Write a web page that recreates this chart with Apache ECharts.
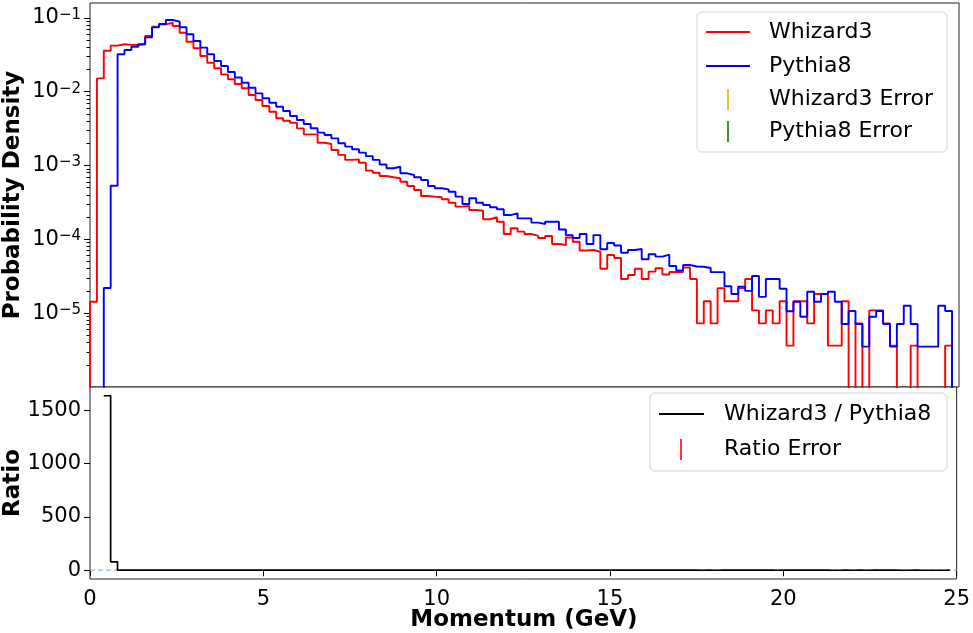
<!DOCTYPE html>
<html><head><meta charset="utf-8">
<script src="https://cdn.jsdelivr.net/npm/echarts@6/dist/echarts.min.js"></script>
<style>html,body{margin:0;padding:0;background:#fff}#c{width:973px;height:633px}</style>
</head><body><div id="c"></div>
<script>
// ---- data ----
const N_BINS = 125;
const BIN_LO = 0;
const BIN_HI = 24.8;
const whizard3 = [
1.43e-5,1.51e-2,3.58e-2,4.19e-2,4.38e-2,4.30e-2,4.27e-2,4.41e-2,5.66e-2,7.57e-2,
8.15e-2,8.57e-2,7.74e-2,6.28e-2,4.74e-2,3.86e-2,3.03e-2,2.46e-2,2.07e-2,1.71e-2,
1.47e-2,1.27e-2,1.11e-2,9.0e-3,7.7e-3,6.39e-3,5.35e-3,4.35e-3,4.04e-3,3.79e-3,
3.18e-3,2.64e-3,2.64e-3,2.03e-3,1.95e-3,1.62e-3,1.39e-3,1.19e-3,1.21e-3,1.09e-3,
8.5e-4,7.97e-4,7.2e-4,6.92e-4,6.7e-4,6.03e-4,5.27e-4,4.65e-4,3.86e-4,3.78e-4,
3.71e-4,3.48e-4,3.13e-4,2.77e-4,2.83e-4,2.49e-4,2.44e-4,1.87e-4,1.99e-4,1.73e-4,
1.18e-4,1.41e-4,1.27e-4,1.18e-4,1.11e-4,1.04e-4,1.11e-4,8.65e-5,8.38e-5,1.06e-4,
9.28e-5,7.06e-5,7.16e-5,6.79e-5,3.99e-5,6.14e-5,5.59e-5,2.9e-5,3.29e-5,4.0e-5,
2.9e-5,3.65e-5,4.06e-5,3.34e-5,3.61e-5,3.6e-5,4.15e-5,2.9e-5,7.26e-6,1.45e-5,
7.26e-6,2.18e-5,1.45e-5,1.45e-5,2.18e-5,2.9e-5,1.09e-5,7.26e-6,1.09e-5,7.26e-6,
1.45e-5,3.63e-6,1.45e-5,1.45e-5,7.26e-6,1.82e-5,1.82e-5,3.63e-6,3.63e-6,1.45e-5,
0,7.26e-6,0,1.09e-5,1.09e-5,7.26e-6,3.63e-6,0,0,3.63e-6,
0,0,0,0,3.63e-6
];
const pythia8 = [
0,0,2.19e-5,5.32e-4,3.2e-2,3.66e-2,4.06e-2,4.37e-2,5.43e-2,7.41e-2,
8.24e-2,9.33e-2,8.86e-2,7.43e-2,5.97e-2,4.84e-2,3.94e-2,3.2e-2,2.6e-2,2.22e-2,
1.84e-2,1.55e-2,1.32e-2,1.13e-2,9.48e-3,8.12e-3,7.08e-3,6.25e-3,5.47e-3,4.68e-3,
4.13e-3,3.65e-3,3.19e-3,2.78e-3,2.59e-3,2.33e-3,2.0e-3,1.8e-3,1.66e-3,1.49e-3,
1.34e-3,1.19e-3,1.03e-3,9.16e-4,9.62e-4,7.83e-4,7.43e-4,6.92e-4,6.36e-4,5.27e-4,
4.91e-4,4.75e-4,4.41e-4,3.78e-4,3.01e-4,3.6e-4,3.13e-4,2.92e-4,2.72e-4,2.55e-4,
2.13e-4,2.25e-4,1.92e-4,1.92e-4,1.68e-4,1.61e-4,1.73e-4,1.73e-4,1.36e-4,1.14e-4,
1.04e-4,1.18e-4,8.65e-5,1.14e-4,7.34e-5,8.91e-5,8.24e-5,6.59e-5,7.16e-5,7.39e-5,
5.36e-5,6.29e-5,5.82e-5,6.19e-5,4.35e-5,3.79e-5,4.49e-5,4.28e-5,4.25e-5,4.09e-5,
3.59e-5,3.59e-5,2.31e-5,1.82e-5,2.29e-5,2.0e-5,3.18e-5,1.66e-5,2.9e-5,2.9e-5,
2.14e-5,1.06e-5,1.43e-5,8.95e-6,1.95e-5,1.43e-5,1.82e-5,1.95e-5,1.43e-5,7.13e-6,
1.07e-5,7.13e-6,3.52e-6,8.95e-6,1.07e-5,7.13e-6,3.52e-6,7.13e-6,1.26e-5,7.13e-6,
3.52e-6,3.52e-6,3.52e-6,1.26e-5,1.07e-5
];
const ratio = [
null,null,1637,79,1.37,1.17,1.05,1.01,1.04,1.02,
0.99,0.92,0.87,0.85,0.79,0.80,0.77,0.77,0.80,0.77,
0.80,0.82,0.84,0.80,0.81,0.79,0.76,0.70,0.74,0.81,
0.77,0.72,0.83,0.73,0.75,0.70,0.70,0.66,0.73,0.73,
0.63,0.67,0.70,0.76,0.70,0.77,0.71,0.67,0.61,0.72,
0.76,0.73,0.71,0.73,0.94,0.69,0.78,0.64,0.73,0.68,
0.55,0.63,0.66,0.61,0.66,0.65,0.64,0.50,0.62,0.93,
0.89,0.60,0.83,0.60,0.54,0.69,0.68,0.44,0.46,0.54,
0.54,0.58,0.70,0.54,0.83,0.95,0.92,0.68,0.17,0.35,
0.20,0.61,0.63,0.80,0.95,1.45,0.34,0.44,0.38,0.25,
0.68,0.34,1.01,1.62,0.37,1.27,1.00,0.19,0.25,2.03,
0,1.02,0,1.22,1.02,1.02,1.03,0,0,0.51,
0,0,0,0,0.34
];
const REF_RATIO = 1;
const xTicks = [0, 5, 10, 15, 20, 25];
const yMajorTicks = [1e-5, 1e-4, 1e-3, 1e-2, 1e-1];
const yMinorTicks = [];
[-6,-5,-4,-3,-2,-1].forEach(e => { for (let m = 2; m <= 9; m++) yMinorTicks.push(m * Math.pow(10, e)); });
const ratioTicks = [0, 500, 1000, 1500];

// ---- layout / styles ----
const FONT = '"DejaVu Sans", Verdana, sans-serif';
const Y_MIN = 1e-6, Y_MAX = Math.pow(10, -0.8);
const R_MIN = -82, R_MAX = 1719;
const FLOOR = 1e-9; // empty bins fall below the log axis and are clipped

const edges = [];
for (let i = 0; i <= N_BINS; i++) edges.push(BIN_LO + (BIN_HI - BIN_LO) * i / N_BINS);

function histSteps(vals) {
  const pts = [[edges[0], FLOOR]];
  vals.forEach((v, i) => pts.push([edges[i], v > 0 ? v : FLOOR]));
  const last = vals[vals.length - 1];
  pts.push([edges[N_BINS], last > 0 ? last : FLOOR]);
  pts.push([edges[N_BINS], FLOOR]);
  return pts;
}
function ratioSteps(vals) {
  const pts = [];
  let lastIdx = -1;
  vals.forEach((v, i) => { if (v !== null) { pts.push([edges[i], v]); lastIdx = i; } });
  pts.push([edges[lastIdx + 1], vals[lastIdx]]);
  return pts;
}

const chart = echarts.init(document.getElementById('c'), null, {renderer: 'canvas'});
const tickStyle = {color: '#000', width: 1};
const labelBase = {color: '#000', fontFamily: FONT, fontSize: 21};
const LEG_FONT = '22px ' + FONT;
const TITLE_FONT = 'bold 23px ' + FONT;

const option = {
  animation: false,
  backgroundColor: '#fff',
  grid: [
    {left: 90, top: 3, width: 869, height: 384, show: true, borderColor: '#222', borderWidth: 1, backgroundColor: '#fff'},
    {left: 90, top: 387, width: 869, height: 192, show: true, borderColor: '#222', borderWidth: 1, backgroundColor: '#fff'}
  ],
  xAxis: [
    {gridIndex: 0, type: 'value', min: 0, max: 25, axisLine: {show: false}, axisTick: {show: false}, axisLabel: {show: false}, splitLine: {show: false}},
    {gridIndex: 1, type: 'value', min: 0, max: 25, interval: 5, axisLine: {show: false},
     axisTick: {show: true, length: 6, lineStyle: tickStyle},
     axisLabel: Object.assign({margin: 10, formatter: v => String(v)}, labelBase), splitLine: {show: false}}
  ],
  yAxis: [
    {gridIndex: 0, type: 'log', logBase: 10, min: Y_MIN, max: Y_MAX, position: 'left',
     axisLine: {show: false}, splitLine: {show: false},
     axisTick: {show: true, length: 6, lineStyle: tickStyle, customValues: yMajorTicks},
     axisLabel: {margin: 9, customValues: yMajorTicks,
       formatter: function (v) { const e = Math.round(Math.log10(v)); return '{b|10}{s|\u2212' + Math.abs(e) + '}'; },
       rich: {
         b: {fontSize: 21, fontFamily: FONT, color: '#000', lineHeight: 21, padding: [5, 0, 0, 0], verticalAlign: 'bottom'},
         s: {fontSize: 15, fontFamily: FONT, color: '#000', lineHeight: 15, verticalAlign: 'top'}
       }}},
    {gridIndex: 0, type: 'log', logBase: 10, min: Y_MIN, max: Y_MAX, position: 'left',
     axisLine: {show: false}, splitLine: {show: false}, axisLabel: {show: false},
     axisTick: {show: true, length: 3.5, lineStyle: tickStyle, customValues: yMinorTicks}},
    {gridIndex: 1, type: 'value', min: R_MIN, max: R_MAX, position: 'left',
     axisLine: {show: false}, splitLine: {show: false},
     axisTick: {show: true, length: 6, lineStyle: tickStyle, customValues: ratioTicks},
     axisLabel: Object.assign({margin: 9, customValues: ratioTicks, formatter: v => String(v)}, labelBase)}
  ],
  series: [
    {name: 'Whizard3', type: 'line', xAxisIndex: 0, yAxisIndex: 0, step: 'end', showSymbol: false, clip: true,
     lineStyle: {color: '#ff0000', width: 1.9}, itemStyle: {color: '#ff0000'}, data: histSteps(whizard3), z: 2},
    {name: 'Pythia8', type: 'line', xAxisIndex: 0, yAxisIndex: 0, step: 'end', showSymbol: false, clip: true,
     lineStyle: {color: '#0000ff', width: 1.9}, itemStyle: {color: '#0000ff'}, data: histSteps(pythia8), z: 3},
    {name: 'Reference', type: 'line', xAxisIndex: 1, yAxisIndex: 2, showSymbol: false, silent: true,
     lineStyle: {color: '#8fbbd9', width: 1.2, type: [5, 3]}, data: [[0, REF_RATIO], [25, REF_RATIO]], z: 1},
    {name: 'Whizard3 / Pythia8', type: 'line', xAxisIndex: 1, yAxisIndex: 2, step: 'end', showSymbol: false, clip: true,
     lineStyle: {color: '#000', width: 1.7}, itemStyle: {color: '#000'}, data: ratioSteps(ratio), z: 3}
  ],
  graphic: [
    // axis titles
    {type: 'text', x: 13, y: 195, rotation: Math.PI / 2, z: 10,
     style: {text: 'Probability Density', font: TITLE_FONT, fill: '#000', textAlign: 'center', textVerticalAlign: 'middle', align: 'center', verticalAlign: 'middle'}},
    {type: 'text', x: 13, y: 483, rotation: Math.PI / 2, z: 10,
     style: {text: 'Ratio', font: TITLE_FONT, fill: '#000', textAlign: 'center', textVerticalAlign: 'middle', align: 'center', verticalAlign: 'middle'}},
    {type: 'text', x: 524, y: 620, z: 10,
     style: {text: 'Momentum (GeV)', font: TITLE_FONT, fill: '#000', textAlign: 'center', textVerticalAlign: 'middle', align: 'center', verticalAlign: 'middle'}},
    // legend (top)
    {type: 'rect', shape: {x: 697, y: 12, width: 250, height: 140, r: 5}, z: 20,
     style: {fill: 'rgba(255,255,255,0.8)', stroke: '#d3d3d3', lineWidth: 1}},
    {type: 'line', shape: {x1: 706, y1: 32, x2: 750, y2: 32}, z: 21, style: {stroke: '#ff0000', lineWidth: 2}},
    {type: 'line', shape: {x1: 706, y1: 66, x2: 750, y2: 66}, z: 21, style: {stroke: '#0000ff', lineWidth: 2}},
    {type: 'line', shape: {x1: 728, y1: 89, x2: 728, y2: 110}, z: 21, style: {stroke: '#ffa500', lineWidth: 1.6}},
    {type: 'line', shape: {x1: 728, y1: 121, x2: 728, y2: 142}, z: 21, style: {stroke: '#008000', lineWidth: 1.6}},
    {type: 'text', x: 769, y: 32, z: 21, style: {text: 'Whizard3', font: LEG_FONT, fill: '#000', textVerticalAlign: 'middle', verticalAlign: 'middle'}},
    {type: 'text', x: 769, y: 66, z: 21, style: {text: 'Pythia8', font: LEG_FONT, fill: '#000', textVerticalAlign: 'middle', verticalAlign: 'middle'}},
    {type: 'text', x: 769, y: 99, z: 21, style: {text: 'Whizard3 Error', font: LEG_FONT, fill: '#000', textVerticalAlign: 'middle', verticalAlign: 'middle'}},
    {type: 'text', x: 769, y: 131, z: 21, style: {text: 'Pythia8 Error', font: LEG_FONT, fill: '#000', textVerticalAlign: 'middle', verticalAlign: 'middle'}},
    // legend (ratio)
    {type: 'rect', shape: {x: 650, y: 393, width: 297, height: 78, r: 5}, z: 20,
     style: {fill: 'rgba(255,255,255,0.8)', stroke: '#d3d3d3', lineWidth: 1}},
    {type: 'line', shape: {x1: 659, y1: 414, x2: 704, y2: 414}, z: 21, style: {stroke: '#000', lineWidth: 1.8}},
    {type: 'line', shape: {x1: 681, y1: 439, x2: 681, y2: 460}, z: 21, style: {stroke: '#ff0000', lineWidth: 1.6}},
    {type: 'text', x: 724, y: 414, z: 21, style: {text: 'Whizard3 / Pythia8', font: LEG_FONT, fill: '#000', textVerticalAlign: 'middle', verticalAlign: 'middle'}},
    {type: 'text', x: 724, y: 449, z: 21, style: {text: 'Ratio Error', font: LEG_FONT, fill: '#000', textVerticalAlign: 'middle', verticalAlign: 'middle'}}
  ]
};
chart.setOption(option);
</script>
</body></html>
